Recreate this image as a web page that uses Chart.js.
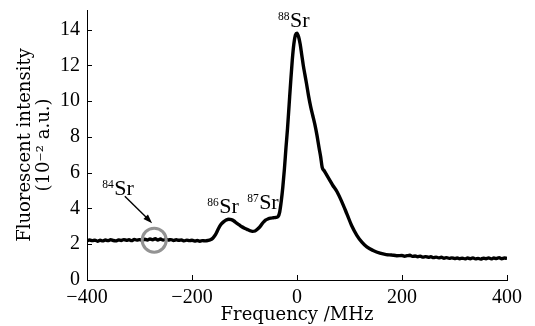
<!DOCTYPE html>
<html><head><meta charset="utf-8">
<script src="https://cdn.jsdelivr.net/npm/chart.js@4/dist/chart.umd.min.js"></script>
<style>html,body{margin:0;padding:0;background:#fff}#wrap{width:535px;height:326px}</style>
</head><body><div id="wrap"><canvas id="c" width="535" height="326"></canvas></div>
<script>
// ---- data ----
const frequency = [
 -400,-395,-390,-385,-380,-375,-370,-365,-360,-355,-350,-345,-340,-335,-330,-325,-320,-315,-310,-305,
 -300,-295,-290,-285,-280,-275,-270,-265,-260,-255,-250,-245,-240,-235,-230,-225,-220,-215,-210,-205,
 -200,-195,-190,-185,-180,-175,-170,-165,-160,-155,-150,-145,-140,-135,-130,-125,-120,-115,-110,-105,
 -100,-95,-90,-85,-80,-75,-70,-65,-60,-55,-50,-45,-40,-36,-33,-30,-27,-24,-21,-18,-15,-12,-9,-6,-3,
 0,3,6,9,12,15,18,22,26,30,34,38,42,45,48,52,57,62,68,76,85,95,104,114,124,133,145,158,170,180,190,
 200,205,210,215,220,225,230,235,240,245,250,255,260,265,270,275,280,285,290,295,
 300,305,310,315,320,325,330,335,340,345,350,355,360,365,370,375,380,385,390,395,400];
const intensity = [
 2.18,2.24,2.20,2.23,2.17,2.22,2.19,2.24,2.20,2.25,2.21,2.19,2.24,2.21,2.26,2.22,2.25,2.20,2.27,2.23,
 2.26,2.22,2.28,2.24,2.29,2.25,2.31,2.24,2.29,2.23,2.27,2.24,2.26,2.21,2.25,2.22,2.24,2.19,2.23,2.20,
 2.22,2.18,2.21,2.17,2.20,2.19,2.21,2.25,2.35,2.55,2.85,3.10,3.25,3.35,3.40,3.38,3.30,3.18,3.08,2.98,
 2.90,2.83,2.76,2.72,2.74,2.85,3.00,3.20,3.35,3.42,3.46,3.48,3.50,3.55,3.80,4.40,5.20,6.20,7.40,8.50,9.80,11.10,12.30,13.20,13.70,
 13.80,13.60,13.20,12.60,12.00,11.50,11.00,10.30,9.70,9.20,8.70,8.10,7.40,6.90,6.30,6.10,5.85,5.60,5.30,4.95,4.40,3.70,3.05,2.50,2.10,1.85,1.65,1.50,1.42,1.40,1.36,
 1.37,1.33,1.36,1.38,1.32,1.34,1.30,1.33,1.28,1.31,1.27,1.30,1.25,1.28,1.24,1.27,1.22,1.25,1.21,1.24,
 1.20,1.23,1.19,1.22,1.18,1.23,1.19,1.24,1.18,1.21,1.17,1.22,1.19,1.24,1.18,1.23,1.20,1.25,1.19,1.23,1.21];
const xTicks = [-400,-200,0,200,400];
const yTicks = [0,2,4,6,8,10,12,14];
const markerFreq = [-272];
const markerIntensity = [2.23];
const isotopeMasses = ['84','86','87','88'];

// ---- annotation anchors (data coordinates) ----
const labelAnchors = [
  {x:-371, y:4.75},
  {x:-171, y:3.74},
  {x:-95,  y:3.97},
  {x:-36,  y:14.13}
];
const arrowFrom = {x:-328, y:4.69};
const arrowTo   = {x:-276, y:3.18};

const serifTick = '"Liberation Serif", "Times New Roman", serif';
const serifTitle = '"DejaVu Serif", serif';

const annotPlugin = {
  id:'annot',
  afterDatasetsDraw(chart){
    const ctx = chart.ctx, xs = chart.scales.x, ys = chart.scales.y;
    ctx.save();
    ctx.fillStyle = '#000'; ctx.strokeStyle = '#000';
    ctx.textAlign = 'left'; ctx.textBaseline = 'alphabetic';
    labelAnchors.forEach((a,i)=>{
      const px = xs.getPixelForValue(a.x), py = ys.getPixelForValue(a.y);
      ctx.font = '11.5px ' + serifTick;
      ctx.fillText(isotopeMasses[i], px, py - 7);
      const w = ctx.measureText(isotopeMasses[i]).width;
      ctx.font = '22px ' + serifTick;
      ctx.fillText('Sr', px + w + 0.5, py);
    });
    // arrow
    const x1 = xs.getPixelForValue(arrowFrom.x), y1 = ys.getPixelForValue(arrowFrom.y);
    const x2 = xs.getPixelForValue(arrowTo.x), y2 = ys.getPixelForValue(arrowTo.y);
    const ang = Math.atan2(y2-y1, x2-x1);
    const hl = 9, hw = 3.2;
    ctx.lineWidth = 1.4;
    ctx.beginPath(); ctx.moveTo(x1,y1);
    ctx.lineTo(x2 - hl*0.8*Math.cos(ang), y2 - hl*0.8*Math.sin(ang)); ctx.stroke();
    ctx.beginPath();
    ctx.moveTo(x2,y2);
    ctx.lineTo(x2 - hl*Math.cos(ang) + hw*Math.sin(ang), y2 - hl*Math.sin(ang) - hw*Math.cos(ang));
    ctx.lineTo(x2 - hl*Math.cos(ang) - hw*Math.sin(ang), y2 - hl*Math.sin(ang) + hw*Math.cos(ang));
    ctx.closePath(); ctx.fill();
    // inward tick marks
    ctx.lineWidth = 1;
    const ca = chart.chartArea;
    xs.ticks.forEach(t=>{
      const p = Math.round(xs.getPixelForValue(t.value)) + 0.5;
      ctx.beginPath(); ctx.moveTo(p, ca.bottom); ctx.lineTo(p, ca.bottom - 5); ctx.stroke();
    });
    ys.ticks.forEach(t=>{
      const p = Math.round(ys.getPixelForValue(t.value)) + 0.5;
      ctx.beginPath(); ctx.moveTo(ca.left, p); ctx.lineTo(ca.left + 5, p); ctx.stroke();
    });
    ctx.restore();
  }
};

new Chart(document.getElementById('c'), {
  type:'line',
  data:{
    datasets:[
      {
        type:'scatter',
        data: markerFreq.map((f,i)=>({x:f, y:markerIntensity[i]})),
        pointRadius:12, pointHoverRadius:12,
        borderColor:'#939393', backgroundColor:'rgba(0,0,0,0)', borderWidth:3,
        showLine:false, order:0
      },
      {
        data: frequency.map((f,i)=>({x:f, y:intensity[i]})),
        borderColor:'#000', borderWidth:3.4, pointRadius:0, tension:0.3,
        fill:false, order:1, cubicInterpolationMode:'monotone'
      }
    ]
  },
  options:{
    responsive:false, animation:false, devicePixelRatio:1,
    layout:{autoPadding:false, padding:{left:0, top:10, right:28, bottom:0}},
    plugins:{legend:{display:false}, tooltip:{enabled:false}},
    scales:{
      x:{
        type:'linear', min:-400, max:400,
        afterBuildTicks: s => { s.ticks = xTicks.map(v=>({value:v})); },
        afterFit: s => { s.height = 46; },
        grid:{display:false, drawTicks:false},
        border:{display:true, color:'#000', width:1},
        ticks:{color:'#000', padding:6, maxRotation:0, autoSkip:false,
          font:{family:serifTick, size:20},
          callback: v => String(v).replace('-', '\u2212')},
        title:{display:true, text:'Frequency /MHz', color:'#000',
          font:{family:serifTitle, size:18, lineHeight:1.2}, padding:{top:0,bottom:0}}
      },
      y:{
        type:'linear', min:0, max:15.1,
        afterBuildTicks: s => { s.ticks = yTicks.map(v=>({value:v})); },
        afterFit: s => { s.width = 87; },
        grid:{display:false, drawTicks:false},
        border:{display:true, color:'#000', width:1},
        ticks:{color:'#000', padding:7, font:{family:serifTick, size:20, lineHeight:0.15}},
        title:{display:true, text:['Fluorescent intensity','(10\u207B\u00B2 a.u.)'], color:'#000',
          font:{family:serifTitle, size:18, lineHeight:1.1}, padding:{top:15,bottom:0}}
      }
    }
  },
  plugins:[annotPlugin]
});
</script>
</body></html>
